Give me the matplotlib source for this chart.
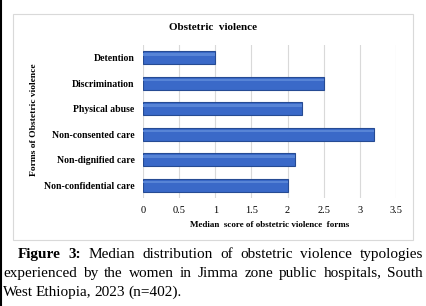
import matplotlib
matplotlib.use('Agg')
import matplotlib.pyplot as plt
from matplotlib.patches import Rectangle
from matplotlib.lines import Line2D

# data
categories = ['Non-confidential care', 'Non-dignified care', 'Non-consented care',
              'Physical abuse', 'Discrimination', 'Detention']
medians = [2.0, 2.1, 3.2, 2.2, 2.5, 1.0]
xticks = [0, 0.5, 1, 1.5, 2, 2.5, 3, 3.5]
xticklabels = ['0', '0.5', '1', '1.5', '2', '2.5', '3', '3.5']

W, H = 426, 306
plt.rcParams['font.family'] = ['Liberation Serif', 'DejaVu Serif']
fig = plt.figure(figsize=(W / 100, H / 100), dpi=100)

# chart frame
fig.patches.append(Rectangle((13 / W, 1 - 240 / H), 400 / W, 226 / H,
                             transform=fig.transFigure, fill=False,
                             edgecolor='#d9d9d9', linewidth=0.8))
# black left edge of the page crop
fig.lines.append(Line2D([0.002, 0.002], [0, 1], transform=fig.transFigure,
                        color='black', linewidth=1.5))

ax = fig.add_axes([143 / W, 1 - 198 / H, 253 / W, 153 / H])
y = range(len(categories))
ax.barh(y, medians, height=0.52, color='#3a69c8', edgecolor='#264b93',
        linewidth=0.8, zorder=3)
# lighter highlight stripe for the shaded look
ax.barh([v + 0.12 for v in y], medians, height=0.1, color='#5784d6',
        linewidth=0, zorder=4)
ax.set_xlim(0, 3.5)
ax.set_ylim(-0.5, 5.5)
ax.set_xticks(xticks)
ax.set_xticklabels(xticklabels, fontsize=7.5)
ax.set_yticks(list(y))
ax.set_yticklabels(categories, fontsize=7, fontweight='bold')
ax.tick_params(length=0)
ax.tick_params(axis='x', pad=6)
ax.tick_params(axis='y', pad=6)
ax.grid(axis='x', color='#d9d9d9', linewidth=0.8, zorder=0)
for s in ax.spines.values():
    s.set_visible(False)
ax.set_xlabel('Median  score of obstetric violence  forms', fontsize=6.5,
              fontweight='bold', labelpad=4)
fig.text(34 / W, 1 - 120 / H, 'Forms of Obstetric violence', rotation=90,
         fontsize=6.8, fontweight='bold', ha='center', va='center')
fig.text(213 / W, 1 - 28 / H, 'Obstetric  violence', fontsize=8,
         fontweight='bold', ha='center', va='center')

# justified caption
fig.canvas.draw()
r = fig.canvas.get_renderer()
cap_size = 11


def put_line(words, x0, x1, ybase, justify=True):
    arts = []
    for w, bold in words:
        t = fig.text(0, 1 - ybase / H, w, fontsize=cap_size,
                     fontweight='bold' if bold else 'normal', va='baseline')
        arts.append(t)
    widths = [a.get_window_extent(r).width for a in arts]
    if justify and len(arts) > 1:
        gap = (x1 - x0 - sum(widths)) / (len(arts) - 1)
    else:
        gap = 3.0
    x = x0
    for a, w in zip(arts, widths):
        a.set_x(x / W)
        x += w + gap


line1 = [('Figure', True), ('3:', True), ('Median', False), ('distribution', False),
         ('of', False), ('obstetric', False), ('violence', False), ('typologies', False)]
line2 = [(w, False) for w in 'experienced by the women in Jimma zone public hospitals, South'.split()]
line3 = [(w, False) for w in 'West Ethiopia, 2023 (n=402).'.split()]
put_line(line1, 18, 423, 258)
put_line(line2, 3, 423, 277)
put_line(line3, 3, 423, 296, justify=False)

fig.savefig('out.png', dpi=100)
